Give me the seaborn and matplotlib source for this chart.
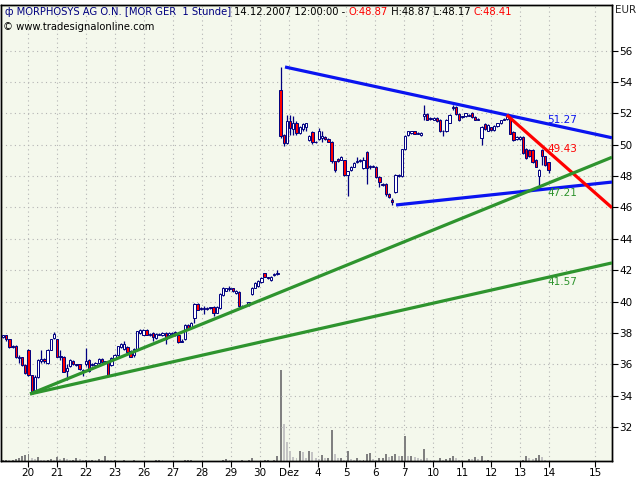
import numpy as np
import pandas as pd
import seaborn as sns
import matplotlib
matplotlib.use("Agg")
import matplotlib.pyplot as plt

# MORPHOSYS AG O.N., hourly bars 19.11.2007 - 14.12.2007 12:00
opens = [
    37.75, 37.85, 37.60, 37.10, 37.20, 36.40, 36.45, 35.95, 36.95, 35.30,
    34.30, 35.20, 36.25, 36.35, 36.10, 36.95, 37.70, 37.60, 36.50, 36.50,
    35.60, 35.90, 36.25, 36.00, 36.00, 35.60, 36.00, 36.30, 35.95, 35.95,
    36.10, 36.35, 36.20, 36.15, 35.95, 36.40, 36.60, 37.10, 37.00, 37.10,
    36.85, 36.60, 37.00, 38.00, 37.90, 38.20, 37.85, 38.00, 37.70, 37.90,
    37.85, 38.00, 37.85, 37.95, 38.05, 37.85, 37.45, 37.60, 38.50, 38.40,
    38.95, 39.85, 39.60, 39.55, 39.60, 39.60, 39.65, 39.30, 39.60, 40.40,
    40.70, 40.80, 40.85, 40.55, 40.60, 39.70, 39.75, 39.80, 40.50, 40.90,
    41.00, 41.25, 41.80, 41.55, 41.40, 41.70, 41.75, 53.50, 50.60, 50.10,
    51.50, 51.00, 51.40, 50.75, 51.00, 51.10, 50.30, 50.80, 50.15, 50.35,
    50.40, 50.50, 50.35, 50.20, 48.95, 49.10, 49.05, 49.00, 48.05, 48.40,
    48.60, 48.90, 48.95, 48.50, 49.55, 48.60, 48.60, 48.60, 47.95, 47.45,
    47.50, 46.85, 46.50, 47.00, 48.00, 48.00, 49.70, 50.60, 50.75, 50.85,
    50.70, 50.60, 51.85, 51.95, 51.65, 51.60, 51.70, 51.60, 50.90, 50.85,
    51.40, 52.35, 52.40, 51.95, 51.75, 51.80, 51.85, 52.05, 51.75, 51.60,
    50.40, 51.30, 50.90, 51.10, 50.95, 51.20, 51.35, 51.60, 51.65, 51.70,
    50.80, 50.35, 50.35, 50.50, 49.75, 49.65, 49.65, 49.05, 48.00, 49.65,
    49.25, 48.87,
]
highs = [
    37.90, 37.90, 37.65, 37.25, 37.25, 36.60, 36.50, 36.00, 37.00, 35.35,
    35.30, 36.35, 36.90, 36.40, 37.00, 37.65, 38.05, 37.65, 36.90, 36.55,
    36.00, 36.35, 36.30, 36.05, 36.05, 35.70, 37.05, 36.35, 36.10, 36.15,
    36.40, 36.40, 36.25, 36.20, 36.45, 36.65, 37.20, 37.35, 37.50, 37.15,
    36.90, 37.05, 38.15, 38.25, 38.25, 38.25, 38.00, 38.05, 38.00, 38.00,
    38.05, 38.05, 38.05, 38.05, 38.10, 37.90, 37.60, 38.55, 38.55, 38.70,
    39.90, 39.90, 39.65, 39.70, 39.65, 39.65, 39.70, 39.70, 40.55, 40.95,
    40.90, 41.00, 40.90, 40.75, 40.65, 39.80, 39.80, 40.00, 40.95, 41.25,
    41.35, 41.55, 41.85, 41.60, 41.65, 41.80, 42.00, 54.95, 50.65, 51.90,
    51.90, 51.80, 51.50, 51.20, 51.40, 51.40, 50.60, 50.85, 50.25, 51.05,
    50.90, 50.55, 50.40, 50.25, 48.95, 49.15, 49.25, 49.05, 48.35, 48.65,
    48.90, 49.20, 49.10, 49.20, 49.60, 48.70, 48.70, 48.65, 48.00, 47.55,
    47.55, 46.90, 46.60, 48.15, 48.15, 49.75, 50.60, 50.90, 50.90, 50.90,
    50.80, 50.80, 52.55, 52.00, 51.75, 51.75, 51.75, 51.65, 50.95, 51.65,
    51.95, 52.50, 52.45, 52.00, 51.85, 52.05, 51.95, 52.10, 51.80, 51.70,
    51.20, 51.35, 51.30, 51.15, 51.25, 51.40, 51.60, 51.70, 51.90, 51.75,
    50.85, 50.55, 50.55, 50.55, 49.80, 49.70, 49.70, 49.10, 48.45, 49.75,
    49.30, 48.87,
]
lows = [
    37.70, 37.50, 37.05, 37.05, 36.40, 36.10, 35.90, 35.40, 35.25, 34.10,
    34.25, 35.15, 36.10, 36.10, 36.00, 36.90, 37.60, 36.45, 36.30, 35.50,
    35.00, 35.85, 35.95, 35.90, 35.65, 35.25, 35.90, 35.55, 35.90, 35.90,
    36.05, 36.10, 36.10, 35.30, 35.90, 36.35, 36.55, 37.05, 36.95, 36.75,
    36.45, 36.50, 36.95, 37.95, 37.85, 37.85, 37.80, 37.50, 37.65, 37.85,
    37.80, 37.30, 37.80, 37.90, 37.80, 37.35, 37.40, 37.55, 38.30, 38.35,
    38.65, 39.45, 39.50, 39.20, 39.50, 39.55, 39.10, 39.25, 39.55, 40.35,
    40.65, 40.70, 40.60, 40.50, 39.60, 39.65, 39.65, 39.75, 40.45, 40.85,
    40.95, 41.20, 41.55, 41.45, 41.30, 41.65, 41.70, 50.40, 49.90, 50.05,
    50.60, 50.60, 50.60, 50.70, 50.90, 50.90, 50.25, 50.05, 50.10, 50.30,
    50.20, 50.30, 50.15, 48.85, 48.25, 48.90, 49.00, 48.00, 46.70, 48.35,
    48.55, 48.85, 48.90, 48.45, 47.50, 48.45, 48.55, 47.90, 47.30, 47.40,
    46.75, 46.60, 46.15, 46.95, 47.95, 47.95, 49.65, 50.55, 50.70, 50.65,
    50.65, 50.55, 51.60, 51.55, 51.60, 51.55, 51.45, 50.80, 50.55, 50.80,
    51.35, 52.20, 51.90, 51.50, 51.70, 51.75, 51.80, 51.70, 51.55, 51.55,
    50.00, 50.95, 50.85, 50.90, 50.90, 51.15, 51.30, 51.55, 51.60, 50.65,
    50.25, 50.30, 50.30, 49.40, 49.10, 49.20, 48.85, 48.55, 47.24, 48.70,
    48.65, 48.17,
]
closes = [
    37.85, 37.60, 37.10, 37.15, 36.45, 36.45, 35.95, 35.45, 35.30, 34.30,
    35.20, 36.30, 36.35, 36.20, 36.95, 37.60, 37.95, 36.50, 36.55, 35.55,
    35.75, 36.30, 36.00, 35.95, 35.70, 35.65, 36.25, 35.60, 36.05, 36.10,
    36.35, 36.15, 36.15, 35.35, 36.40, 36.60, 37.15, 37.30, 37.30, 36.80,
    36.50, 37.00, 38.10, 38.20, 38.20, 37.90, 37.95, 37.75, 37.95, 37.95,
    38.00, 37.65, 38.00, 38.00, 37.85, 37.40, 37.50, 38.50, 38.35, 38.65,
    39.85, 39.50, 39.55, 39.60, 39.55, 39.60, 39.30, 39.65, 40.50, 40.85,
    40.85, 40.85, 40.65, 40.70, 39.70, 39.75, 39.70, 39.95, 40.90, 41.20,
    41.30, 41.50, 41.60, 41.50, 41.60, 41.75, 41.80, 50.55, 50.10, 51.50,
    51.05, 51.35, 50.75, 51.15, 51.30, 51.35, 50.55, 50.15, 50.20, 50.85,
    50.55, 50.35, 50.20, 48.95, 48.40, 48.95, 49.20, 48.05, 48.30, 48.60,
    48.85, 48.95, 49.05, 49.05, 48.50, 48.60, 48.65, 47.95, 47.65, 47.50,
    46.85, 46.65, 46.35, 48.10, 48.10, 49.70, 50.55, 50.85, 50.85, 50.70,
    50.75, 50.75, 51.95, 51.60, 51.70, 51.70, 51.50, 50.85, 50.85, 51.60,
    51.90, 52.40, 51.95, 51.60, 51.80, 52.00, 51.90, 51.75, 51.60, 51.65,
    51.15, 51.00, 51.25, 50.95, 51.20, 51.35, 51.55, 51.65, 51.85, 50.70,
    50.30, 50.50, 50.50, 49.45, 49.15, 49.25, 48.90, 48.60, 48.40, 49.25,
    48.70, 48.41,
]
volumes = [
    3, 4, 2, 3, 6, 10, 15, 18, 22, 8,
    5, 12, 3, 2, 4, 6, 2, 12, 6, 8,
    5, 2, 3, 9, 6, 4, 4, 2, 4, 3,
    5, 2, 14, 3, 2, 4, 1, 1, 2, 1,
    1, 2, 1, 1, 1, 1, 1, 1, 2, 4,
    3, 1, 1, 1, 1, 1, 1, 2, 3, 3,
    1, 1, 1, 1, 1, 1, 1, 1, 1, 2,
    6, 2, 1, 1, 1, 3, 1, 4, 10, 1,
    1, 1, 3, 3, 1, 2, 15, 270, 110, 55,
    30, 12, 8, 30, 28, 8, 30, 28, 8, 5,
    18, 10, 10, 92, 20, 8, 10, 3, 30, 5,
    3, 8, 4, 4, 20, 25, 5, 3, 10, 10,
    20, 12, 15, 22, 14, 15, 75, 14, 14, 12,
    8, 6, 35, 8, 3, 2, 1, 10, 4, 6,
    10, 14, 8, 4, 2, 1, 6, 5, 12, 5,
    14, 2, 3, 1, 1, 1, 1, 1, 1, 1,
    1, 1, 1, 2, 14, 8, 6, 10, 18, 12,
    2, 1,
]

day_labels = ["20", "21", "22", "23", "26", "27", "28", "29", "30", "Dez",
              "4", "5", "6", "7", "10", "11", "12", "13", "14", "15"]
price_ticks = list(range(32, 57, 2))

# trend lines: start bar, start price, price where the line leaves the chart
trend_names = ["upper", "lower", "down", "steep", "flat"]
trend_start_bar = [88.4, 123.2, 157.9, 8.5, 8.5]
trend_start_price = [54.95, 46.16, 51.89, 34.12, 34.12]
trend_end_price = [50.44, 47.62, 45.98, 49.20, 42.47]
trend_colors = ["#0a14f0", "#0a14f0", "#ff0000", "#2e942e", "#2e942e"]

# value labels at the right of the last bar
label_texts = ["51.27", "49.43", "47.21", "41.57"]
label_colors = ["#0a14f0", "#ff0000", "#2e942e", "#2e942e"]
label_above = [True, True, False, False]

NAVY = "#000080"
BG = "#f4f8ec"

sns.set_style("white")
plt.rcParams["font.family"] = ["DejaVu Sans"]

df = pd.DataFrame({"open": opens, "high": highs, "low": lows,
                   "close": closes, "volume": volumes})
df["bar"] = np.arange(len(df))
falling = df["close"] < df["open"]
body_low = df[["open", "close"]].min(axis=1)
body_height = (df["close"] - df["open"]).abs().clip(lower=0.04)
vol_up = df["volume"] >= df["volume"].shift(1).fillna(0)

x_left, x_right = -0.47, 190.9

fig = plt.figure(figsize=(6.4, 4.8), dpi=100)
ax_vol = fig.add_axes([0.0023, 0.0396, 0.954, 0.951])
ax = ax_vol.twinx()

# volume pane (bottom)
ax_vol.set_facecolor(BG)
ax_vol.bar(df["bar"], df["volume"], width=0.62,
           color=np.where(vol_up, "#808080", "#c4c4c4"), linewidth=0)
ax_vol.set_ylim(0, 270 * 456 / 91)
ax_vol.set_yticks([])
ax_vol.set_xlim(x_left, x_right)
tick_pos = [7.9 + 9.07 * d for d in range(len(day_labels) - 1)] + [185.7]
ax_vol.set_xticks(tick_pos)
ax_vol.set_xticklabels(day_labels, fontsize=7.5)
ax_vol.tick_params(axis="x", length=4, width=0.8, direction="out", pad=1,
                   bottom=True, colors="black")
ax_vol.grid(axis="x", color="#b4b4b4", linestyle=(0, (1, 3)), linewidth=0.8)
ax_vol.set_axisbelow(True)

# candles
ax.vlines(df["bar"], df["low"], df["high"], color=NAVY, linewidth=0.9, zorder=3)
ax.bar(df["bar"], body_height, bottom=body_low, width=0.72,
       color=np.where(falling, "#ff0000", "white"), edgecolor=NAVY,
       linewidth=0.7, zorder=4)

# trend lines
trend = pd.DataFrame({
    "name": trend_names * 2,
    "bar": trend_start_bar + [x_right] * len(trend_names),
    "price": trend_start_price + trend_end_price,
})
sns.lineplot(data=trend, x="bar", y="price", hue="name", units="name",
             estimator=None, sort=False, legend=False, linewidth=2.3,
             palette=dict(zip(trend_names, trend_colors)), ax=ax)
for line in ax.get_lines():
    line.set_zorder(5)
    line.set_solid_capstyle("butt")

for text, color, above in zip(label_texts, label_colors, label_above):
    ax.text(170.5, float(text), text, color=color, fontsize=7.5,
            va="bottom" if above else "top", ha="left", zorder=6)

ax.set_xlim(x_left, x_right)
ax.set_ylim(29.85, 58.93)
ax.set_yticks(price_ticks)
ax.set_yticklabels([str(t) for t in price_ticks], fontsize=7.5)
ax.tick_params(axis="y", length=4, width=0.8, direction="out", pad=1,
               right=True, colors="black")
ax.grid(axis="y", color="#b4b4b4", linestyle=(0, (1, 3)), linewidth=0.8)
ax.set_xlabel("")
ax.set_ylabel("")
for a in (ax, ax_vol):
    for spine in a.spines.values():
        spine.set_color("black")
        spine.set_linewidth(1.0)

# header
parts = [("\u0444 MORPHOSYS AG O.N. [MOR GER  1 Stunde] ", NAVY),
         ("14.12.2007 12:00:00 - ", "black"),
         ("O:48.87", "#ff0000"),
         (" H:48.87 L:48.17 ", "black"),
         ("C:48.41", "#ff0000")]
prev = ax.text(0.006, 0.984, parts[0][0], color=parts[0][1], fontsize=7.2,
               transform=ax.transAxes, va="center", ha="left")
for text, color in parts[1:]:
    prev = ax.annotate(text, xy=(1, 0.5), xycoords=prev, color=color,
                       fontsize=7.2, va="center", ha="left")
ax.text(0.003, 0.951, "\u00a9 www.tradesignalonline.com", color="black",
        fontsize=7.2, transform=ax.transAxes, va="center", ha="left")
fig.text(0.961, 0.979, "EUR", fontsize=7.5, va="center", ha="left")

fig.savefig("out.png", dpi=100, facecolor="white")
